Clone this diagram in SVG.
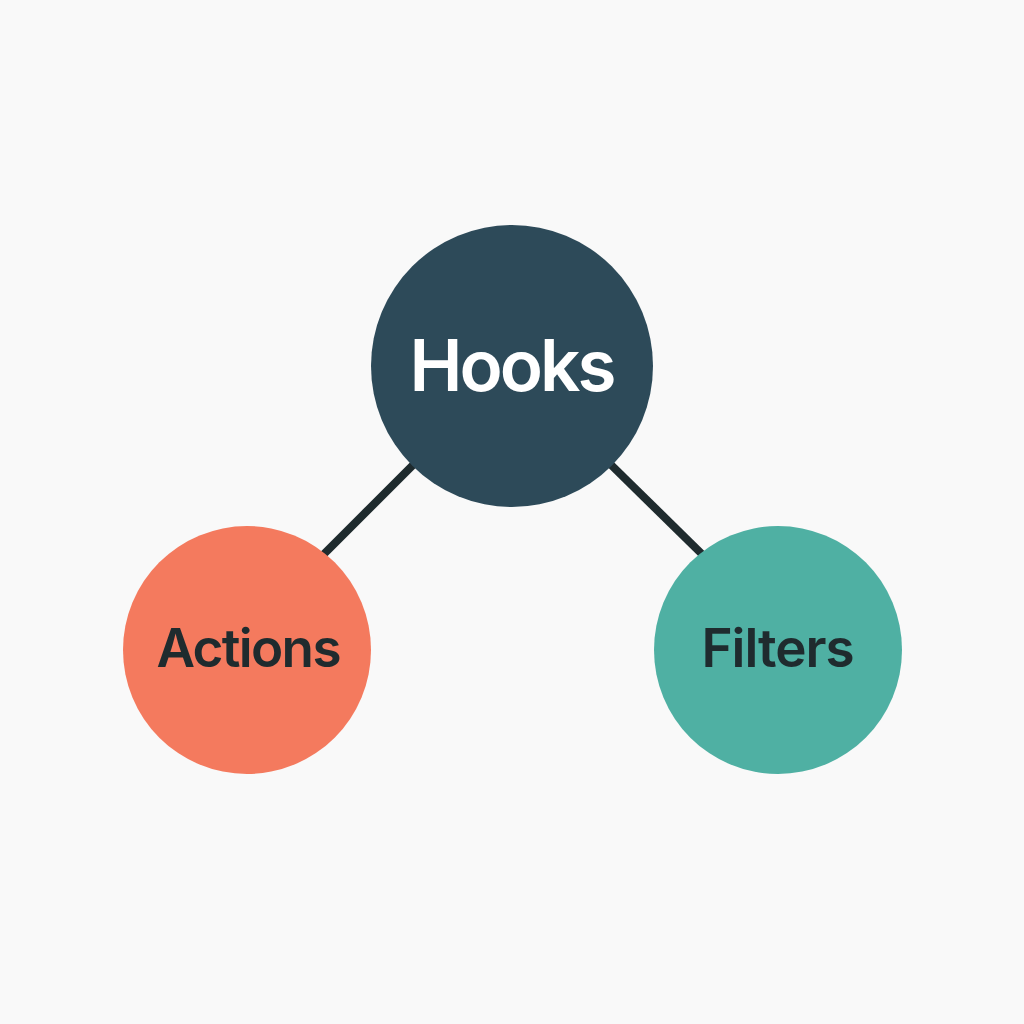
<svg xmlns="http://www.w3.org/2000/svg" width="1024" height="1024" viewBox="0 0 1024 1024">
<style>
.lbl{font-family:"Inter","Liberation Sans",sans-serif;font-weight:600;text-anchor:middle}
.edge{stroke:#1f2b2e;stroke-width:8;fill:none}
</style>
<rect width="1024" height="1024" fill="#f9f9f9"/>
<g id="connectors">
<line class="edge" x1="424" y1="454" x2="316" y2="562"/>
<line class="edge" x1="600" y1="454" x2="710" y2="562"/>
</g>
<g id="hooks">
<circle cx="512" cy="366" r="141" fill="#2d4a59"/>
<text class="lbl" x="513" y="391" font-size="71" fill="#ffffff" textLength="207" lengthAdjust="spacing">Hooks</text>
</g>
<g id="actions">
<circle cx="247" cy="650" r="124" fill="#f47a5e"/>
<text class="lbl" x="249" y="667" font-size="53" fill="#1f2b2e" textLength="185" lengthAdjust="spacing">Actions</text>
</g>
<g id="filters">
<circle cx="778" cy="650" r="124" fill="#4fb0a3"/>
<text class="lbl" x="778" y="667" font-size="53" fill="#1f2b2e" textLength="153" lengthAdjust="spacing">Filters</text>
</g>
</svg>
